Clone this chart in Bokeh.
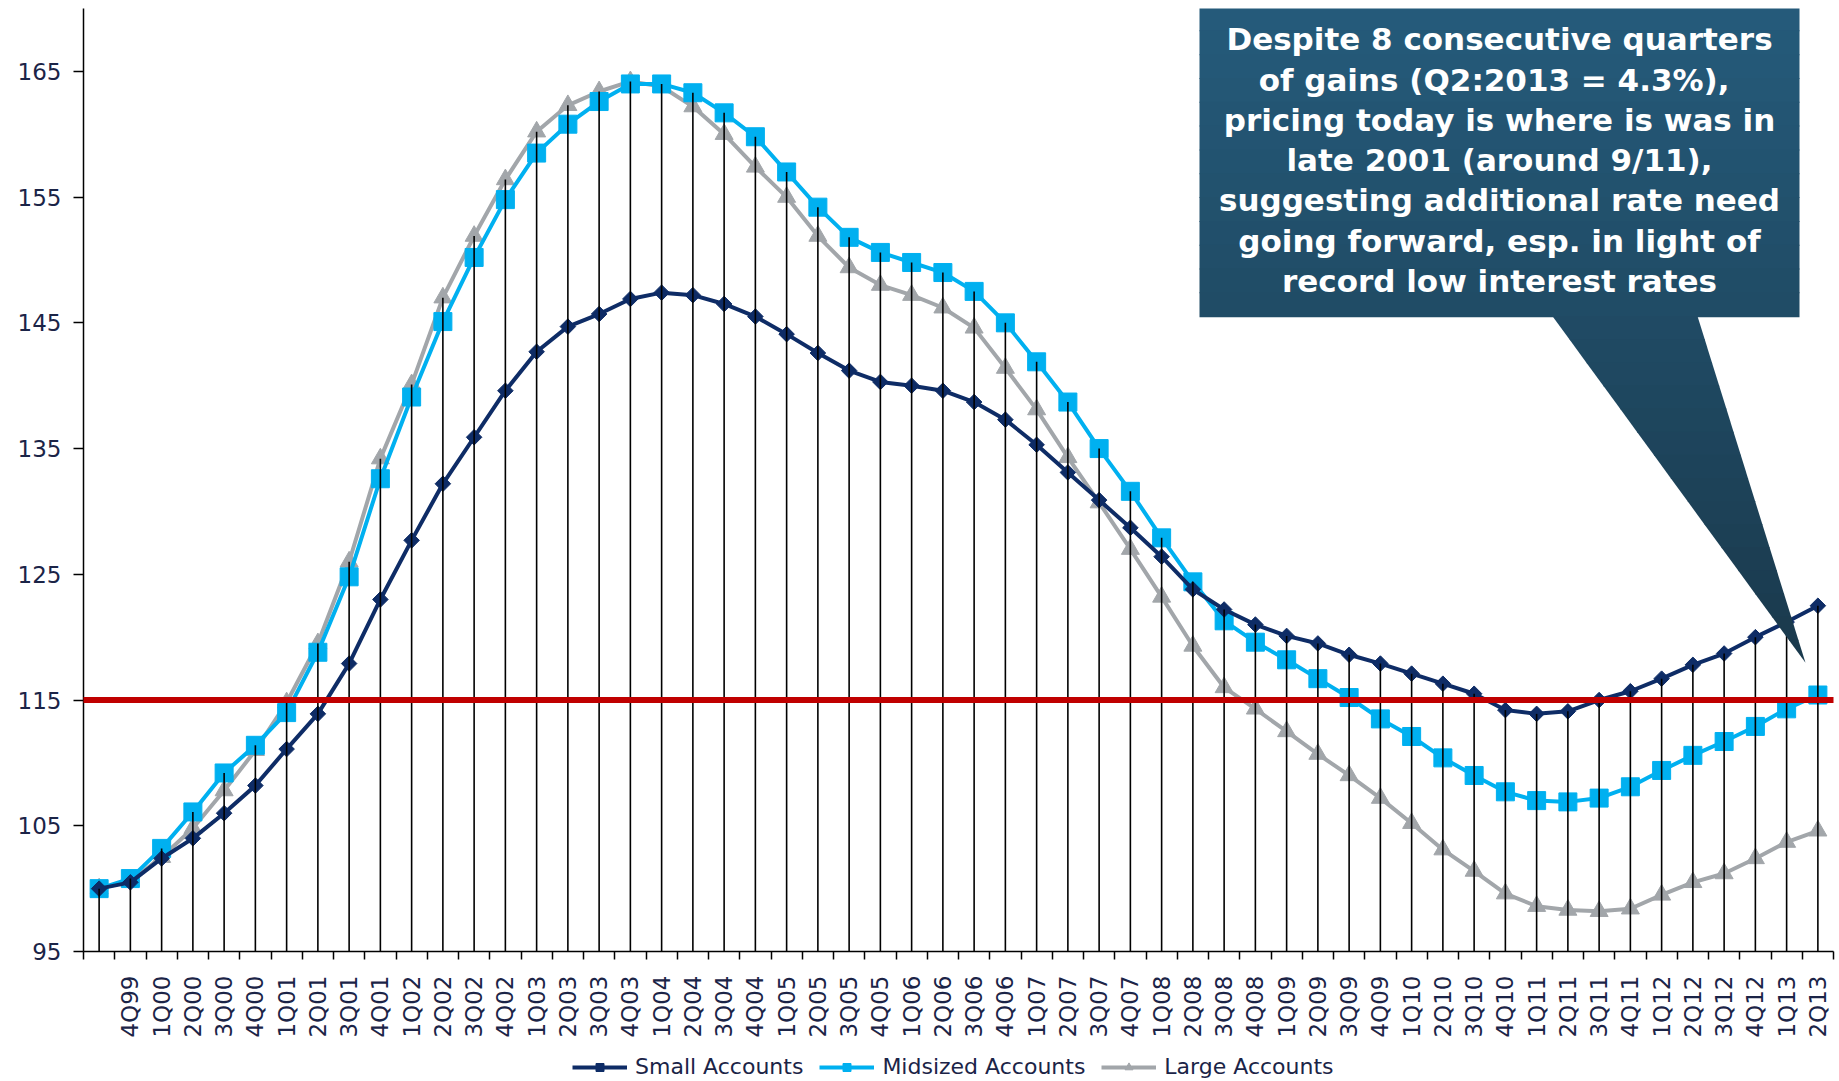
import numpy as np
from bokeh.plotting import figure
from bokeh.layouts import column
from bokeh.models import FixedTicker, Arrow, Label, Legend, LegendItem, Range1d
from bokeh.embed import file_html
from bokeh.resources import INLINE

# ---------------- data ----------------
quarters = ["", "4Q99",
            "1Q00", "2Q00", "3Q00", "4Q00",
            "1Q01", "2Q01", "3Q01", "4Q01",
            "1Q02", "2Q02", "3Q02", "4Q02",
            "1Q03", "2Q03", "3Q03", "4Q03",
            "1Q04", "2Q04", "3Q04", "4Q04",
            "1Q05", "2Q05", "3Q05", "4Q05",
            "1Q06", "2Q06", "3Q06", "4Q06",
            "1Q07", "2Q07", "3Q07", "4Q07",
            "1Q08", "2Q08", "3Q08", "4Q08",
            "1Q09", "2Q09", "3Q09", "4Q09",
            "1Q10", "2Q10", "3Q10", "4Q10",
            "1Q11", "2Q11", "3Q11", "4Q11",
            "1Q12", "2Q12", "3Q12", "4Q12",
            "1Q13", "2Q13"]

small_accounts = [100.0, 100.5, 102.4, 104.0, 106.0, 108.2, 111.1, 113.9, 117.9, 123.0,
                  127.7, 132.2, 135.9, 139.6, 142.7, 144.7, 145.7, 146.9, 147.4, 147.2,
                  146.5, 145.5, 144.1, 142.6, 141.2, 140.3, 140.0, 139.6, 138.7, 137.3,
                  135.3, 133.1, 130.9, 128.7, 126.4, 123.8, 122.2, 121.0, 120.1, 119.5,
                  118.6, 117.9, 117.1, 116.3, 115.5, 114.2, 113.9, 114.1, 115.0, 115.7,
                  116.7, 117.8, 118.7, 120.0, 121.2, 122.5]

midsized_accounts = [100.0, 100.8, 103.2, 106.1, 109.2, 111.4, 114.0, 118.8, 124.8, 132.6,
                     139.1, 145.1, 150.2, 154.8, 158.5, 160.8, 162.6, 164.0, 164.0, 163.3,
                     161.7, 159.8, 157.0, 154.2, 151.8, 150.6, 149.8, 149.0, 147.5, 145.0,
                     141.9, 138.7, 135.0, 131.6, 127.9, 124.4, 121.3, 119.6, 118.2, 116.7,
                     115.2, 113.5, 112.1, 110.4, 109.0, 107.7, 107.0, 106.9, 107.2, 108.1,
                     109.4, 110.6, 111.7, 112.9, 114.3, 115.4]

large_accounts = [100.0, 100.6, 102.5, 104.8, 107.8, 111.0, 114.8, 119.5, 126.0, 134.2,
                  140.1, 147.0, 151.9, 156.4, 160.2, 162.3, 163.4, 164.2, 163.8, 162.2,
                  160.0, 157.4, 155.0, 151.9, 149.4, 148.0, 147.2, 146.2, 144.6, 141.4,
                  138.1, 134.3, 130.7, 127.0, 123.2, 119.3, 116.0, 114.3, 112.5, 110.7,
                  109.0, 107.2, 105.2, 103.1, 101.4, 99.6, 98.6, 98.3, 98.2, 98.4,
                  99.5, 100.5, 101.2, 102.4, 103.7, 104.6]

y_ticks = [95, 105, 115, 125, 135, 145, 155, 165]
reference_level = 115

callout_lines = ["Despite 8 consecutive quarters",
                 "of gains (Q2:2013 =  4.3%),",
                 "pricing today is where is was in",
                 "late 2001 (around 9/11),",
                 "suggesting additional rate need",
                 "going forward, esp. in light of",
                 "record low interest rates"]

series_names = ["Small Accounts", "Midsized Accounts", "Large Accounts"]

# ---------------- layout constants ----------------
Y_MIN, Y_MAX = 95, 170
N = len(quarters)
W = 1839
H_MAIN, H_LEG = 1040, 41
BORDER_L, BORDER_R, BORDER_T, BORDER_B = 83, 6, 8, 88
FRAME_W = W - BORDER_L - BORDER_R
FRAME_H = H_MAIN - BORDER_T - BORDER_B
FRAME_LEFT_PAGE = BORDER_L
FRAME_BOTTOM_PAGE = BORDER_T + FRAME_H
CAT_W = FRAME_W / N
PX_PER_UNIT = FRAME_H / (Y_MAX - Y_MIN)


def px_x(px):
    return (px - FRAME_LEFT_PAGE) / CAT_W - 0.5


def px_y(py):
    return Y_MIN + (FRAME_BOTTOM_PAGE - py) / PX_PER_UNIT


NAVY = "#0E2C66"
BLUE = "#00B0F0"
GRAY = "#A2A6AA"
TXT = "#1B2447"

idx = list(range(N))
tops = [max(a, b, c) for a, b, c in zip(small_accounts, midsized_accounts, large_accounts)]

p = figure(width=W, height=H_MAIN, x_range=Range1d(-0.5, N - 0.5), y_range=Range1d(Y_MIN, Y_MAX),
           output_backend="svg", toolbar_location=None,
           min_border_left=BORDER_L, min_border_right=BORDER_R, min_border_top=BORDER_T,
           min_border_bottom=BORDER_B)
p.xgrid.visible = False
p.ygrid.visible = False
p.outline_line_color = None
p.background_fill_color = "white"
p.border_fill_color = "white"

# series
p.line(idx, large_accounts, line_color=GRAY, line_width=4)
p.scatter(idx, large_accounts, marker="triangle", size=18, fill_color=GRAY, line_color=GRAY)
p.line(idx, midsized_accounts, line_color=BLUE, line_width=4)
p.scatter(idx, midsized_accounts, marker="square", size=18, fill_color=BLUE, line_color=BLUE)
p.line(idx, small_accounts, line_color=NAVY, line_width=4)
p.scatter(idx, small_accounts, marker="square", angle=np.pi / 4, size=11,
          fill_color=NAVY, line_color=NAVY)

# drop lines
p.segment(x0=idx, y0=[Y_MIN] * N, x1=idx, y1=tops, line_color="black", line_width=1.6)

# callout (gradient made of bands)
c_top = np.array([0x25, 0x5B, 0x7B])
c_bot = np.array([0x1A, 0x39, 0x4C])
BOX_L, BOX_R, BOX_T, BOX_B = 1199, 1799, 6, 316
TRI_BL, TRI_BR, TIP_X, TIP_Y = 1552, 1697, 1805, 663


def tri_edges(y):
    f = (y - BOX_B) / (TIP_Y - BOX_B)
    return TRI_BL + f * (TIP_X - TRI_BL), TRI_BR + f * (TIP_X - TRI_BR)


def col(y):
    f = (y - BOX_T) / (TIP_Y - BOX_T)
    c = c_top + f * (c_bot - c_top)
    return "#%02x%02x%02x" % tuple(int(round(v)) for v in c)


xs, ys, cs = [], [], []
edges = np.linspace(BOX_T, BOX_B, 14)
for a, b in zip(edges[:-1], edges[1:]):
    b2 = b + 1.0
    xs.append([px_x(BOX_L), px_x(BOX_R), px_x(BOX_R), px_x(BOX_L)])
    ys.append([px_y(a), px_y(a), px_y(b2), px_y(b2)])
    cs.append(col((a + b) / 2))
edges = np.linspace(BOX_B, TIP_Y, 16)
for a, b in zip(edges[:-1], edges[1:]):
    b2 = min(b + 1.0, TIP_Y)
    la, ra = tri_edges(a)
    lb, rb = tri_edges(b2)
    xs.append([px_x(la), px_x(ra), px_x(rb), px_x(lb)])
    ys.append([px_y(a), px_y(a), px_y(b2), px_y(b2)])
    cs.append(col((a + b) / 2))
p.patches(xs, ys, fill_color=cs, line_color=None)

for k, t in enumerate(callout_lines):
    p.add_layout(Label(x=px_x(1499), y=px_y(39 + k * 40.26), text=t, text_align="center",
                       text_baseline="middle", text_color="white", text_font="DejaVu Sans",
                       text_font_style="bold", text_font_size="31px"))

# reference line
p.add_layout(Arrow(end=None, x_start=px_x(40), y_start=reference_level, x_end=px_x(1845),
                   y_end=reference_level, line_color="#C00000", line_width=6, line_cap="round"))

# axes
xa = p.xaxis[0]
xa.ticker = FixedTicker(ticks=idx, minor_ticks=[i - 0.5 for i in range(N + 1)])
xa.major_label_overrides = {i: q for i, q in enumerate(quarters)}
xa.major_label_orientation = np.pi / 2
xa.axis_line_color = "black"
xa.axis_line_width = 1.5
xa.major_tick_out = 0
xa.major_tick_in = 0
xa.minor_tick_out = 8
xa.minor_tick_in = 0
xa.minor_tick_line_color = "black"
xa.minor_tick_line_width = 1.5
xa.major_label_text_font = "DejaVu Sans"
xa.major_label_text_font_size = "23px"
xa.major_label_text_color = TXT
xa.major_label_standoff = 16

ya = p.yaxis[0]
ya.ticker = FixedTicker(ticks=y_ticks, minor_ticks=[])
ya.axis_line_color = "black"
ya.axis_line_width = 1.5
ya.major_tick_out = 10
ya.major_tick_in = 0
ya.major_tick_line_color = "black"
ya.major_tick_line_width = 1.5
ya.minor_tick_out = 0
ya.minor_tick_in = 0
ya.major_label_text_font = "DejaVu Sans"
ya.major_label_text_font_size = "23px"
ya.major_label_text_color = TXT
ya.major_label_standoff = 12

# ---------------- legend strip ----------------
pl = figure(width=W, height=H_LEG, x_range=Range1d(0, 1), y_range=Range1d(0, 1),
            output_backend="svg", toolbar_location=None, x_axis_type=None, y_axis_type=None,
            min_border_left=0, min_border_right=0, min_border_top=0, min_border_bottom=0)
pl.outline_line_color = None
pl.xgrid.visible = False
pl.ygrid.visible = False
nan = [np.nan]
ls = pl.line(nan, nan, line_color=NAVY, line_width=4)
ms = pl.scatter(nan, nan, marker="square", angle=np.pi / 4, size=9, fill_color=NAVY, line_color=NAVY)
lm = pl.line(nan, nan, line_color=BLUE, line_width=4)
mm = pl.scatter(nan, nan, marker="square", size=12, fill_color=BLUE, line_color=BLUE)
lg = pl.line(nan, nan, line_color=GRAY, line_width=4)
mg = pl.scatter(nan, nan, marker="triangle", size=13, fill_color=GRAY, line_color=GRAY)

legend = Legend(items=[LegendItem(label=series_names[0], renderers=[ls, ms]),
                       LegendItem(label=series_names[1], renderers=[lm, mm]),
                       LegendItem(label=series_names[2], renderers=[lg, mg])],
                orientation="horizontal", location=(489, 2),
                border_line_color=None, background_fill_alpha=0, padding=0, margin=0,
                glyph_width=55, glyph_height=20, label_standoff=8, spacing=16,
                label_text_font="DejaVu Sans", label_text_font_size="22px",
                label_text_color=TXT)
pl.add_layout(legend, "center")

layout = column(p, pl, spacing=0)
open("out.html", "w").write(file_html(layout, INLINE))
